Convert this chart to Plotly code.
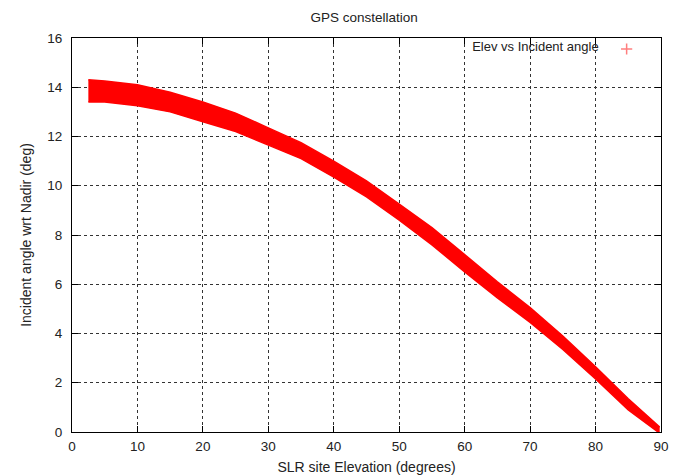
import plotly.graph_objects as go

# Elevation samples (deg) and outer edges of the plotted point cloud (deg)
elev = [2.5, 5, 10, 15, 20, 25, 30, 35, 40, 45, 50, 55, 60, 65, 70, 75, 80, 85, 89.8]
upper = [14.3, 14.25, 14.1, 13.8, 13.4, 12.95, 12.35, 11.75, 11.0, 10.2, 9.25, 8.3, 7.2, 6.1, 5.05, 3.9, 2.65, 1.35, 0.2]
lower = [13.4, 13.4, 13.25, 13.0, 12.6, 12.2, 11.65, 11.1, 10.35, 9.55, 8.6, 7.6, 6.5, 5.45, 4.45, 3.35, 2.15, 0.9, -0.05]

x_ticks = [0, 10, 20, 30, 40, 50, 60, 70, 80, 90]
y_ticks = [0, 2, 4, 6, 8, 10, 12, 14, 16]

RED = "#ff0000"
FONT = "Liberation Sans, Arial, sans-serif"
TXT = "#222222"

fig = go.Figure()

# band of points: filled region between the edges
fig.add_trace(go.Scatter(x=elev, y=upper, mode="lines", line=dict(color=RED, width=1.5),
                         showlegend=False, hoverinfo="skip"))
fig.add_trace(go.Scatter(x=elev, y=lower, mode="lines", line=dict(color=RED, width=1.5),
                         fill="tonexty", fillcolor=RED, showlegend=False, hoverinfo="skip"))
# legend symbol for the point series
fig.add_trace(go.Scatter(x=elev, y=upper, mode="markers", name="",
                         marker=dict(symbol="cross-thin", size=8, color=RED,
                                     line=dict(color=RED, width=1.5)),
                         visible="legendonly", showlegend=True))

axis_common = dict(
    showline=True, linecolor="black", linewidth=1, mirror="allticks",
    ticks="inside", ticklen=6, tickcolor="black",
    showgrid=True, gridcolor="#333333", griddash="dot", gridwidth=1,
    zeroline=False, automargin=False,
    tickfont=dict(family=FONT, size=13.5, color=TXT),
)

fig.update_layout(
    width=673, height=476,
    margin=dict(l=72, r=12, t=38, b=44),
    paper_bgcolor="white", plot_bgcolor="white",
    title=dict(text="GPS constellation", x=0.541, xanchor="center",
               y=0.963, yanchor="middle", font=dict(family=FONT, size=13.5, color=TXT)),
    xaxis=dict(range=[0, 90], tickvals=x_ticks, ticktext=[str(v) for v in x_ticks],
               ticklabelstandoff=2,
               title=dict(text="SLR site Elevation (degrees)", standoff=8,
                          font=dict(family=FONT, size=14, color=TXT)),
               **axis_common),
    yaxis=dict(range=[0, 16], tickvals=y_ticks, ticktext=[str(v) for v in y_ticks],
               ticklabelstandoff=6,
               title=dict(text="Incident angle wrt Nadir (deg)", standoff=12,
                          font=dict(family=FONT, size=14, color=TXT)),
               **axis_common),
    legend=dict(x=0.985, y=1.01, xanchor="right", yanchor="top",
                bgcolor="rgba(0,0,0,0)", borderwidth=0,
                title=dict(text="Elev vs Incident angle", side="left",
                           font=dict(family=FONT, size=13, color=TXT)),
                font=dict(family=FONT, size=13), itemclick=False, itemdoubleclick=False),
    showlegend=True,
)

fig.write_html("out.html", config={"displayModeBar": False},
               post_script="document.body.style.margin='0px';")
